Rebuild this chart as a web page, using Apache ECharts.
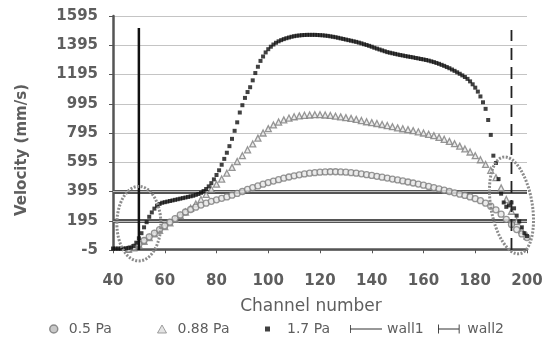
<!DOCTYPE html>
<html><head><meta charset="utf-8">
<script src="https://cdn.jsdelivr.net/npm/echarts@6/dist/echarts.min.js"></script>
<style>html,body{margin:0;padding:0;background:#fff}#c{width:547px;height:347px}</style>
</head><body><div id="c"></div>
<script>
// ---- data ----
const xTickLabels = [40, 60, 80, 100, 120, 140, 160, 180, 200];
const yTickLabels = [-5, 195, 395, 595, 795, 995, 1195, 1395, 1595];
const seriesNames = ['0.5 Pa', '0.88 Pa', '1.7 Pa', 'wall1', 'wall2'];

// 1.7 Pa: one value per channel, channels 40..200
const pa17Start = 40;
const pa17Values = [
  5,5,5,5,5,6,8,12,22,45,
  75,110,150,185,222,252,278,298,310,318,
  322,326,330,334,338,342,346,350,354,358,
  362,366,372,378,386,398,412,430,452,478,
  508,540,578,618,660,705,755,810,868,935,
  985,1035,1075,1108,1155,1205,1248,1288,1318,1346,
  1368,1385,1400,1412,1422,1430,1437,1443,1448,1453,
  1457,1460,1462,1464,1465,1466,1466,1466,1466,1465,
  1464,1463,1461,1459,1456,1453,1450,1446,1442,1438,
  1434,1430,1426,1422,1418,1413,1408,1402,1397,1391,
  1385,1378,1372,1366,1360,1354,1348,1344,1340,1336,
  1332,1328,1325,1321,1318,1315,1312,1308,1305,1301,
  1298,1294,1290,1285,1280,1274,1268,1261,1254,1246,
  1238,1229,1220,1210,1200,1189,1178,1165,1148,1128,
  1105,1078,1045,1005,960,884,782,640,590,480,
  380,320,290,300,320,280,230,190,150,110,
  90
];

// 0.88 Pa and 0.5 Pa: every second channel, channels 46..200
const grayStart = 46;
const grayStep = 2;
const pa088Values = [
  0,10,30,55,80,105,130,155,180,205,
  230,255,280,310,340,375,410,445,480,520,
  560,600,640,680,720,760,795,825,850,870,
  885,897,906,912,916,918,920,920,918,915,
  910,905,900,895,888,880,872,866,860,853,
  846,838,830,824,818,811,803,795,786,777,
  765,752,738,722,705,686,665,640,612,580,
  540,490,420,340,260,190,130,90
];
const pa05Values = [
  0,15,35,60,85,110,135,160,185,210,
  235,255,272,288,302,315,328,338,348,358,
  370,382,395,410,422,433,445,456,466,476,
  486,494,502,509,515,520,524,527,529,530,
  530,529,527,524,520,516,510,505,499,493,
  487,480,474,467,460,453,446,438,430,422,
  413,404,395,386,377,368,358,346,332,315,
  295,270,240,205,170,135,105,80
];

// wall positions (channel) and their vertical extent (velocity)
const wall1 = [[50, -5], [50, 1513]];
const wall2 = [[194, -5], [194, 1500]];
// horizontal reference levels
const refLevels = [395, 195];

// annotation ellipses, in data units: centre channel/velocity, half-width (channels), half-height (velocity), tilt
const annotations = [
  { ch: 50.0, v: 175, dch: 8.5, dv: 255, tilt: 0 },
  { ch: 194.0, v: 300, dch: 8.0, dv: 335, tilt: 0.17 }
];

// ---- build ----
function seq(start, step, values) {
  return values.map((v, i) => [start + i * step, v]);
}

const chart = echarts.init(document.getElementById('c'), null, { renderer: 'canvas' });
const txt = '#5e5e5e';
const font = 'DejaVu Sans, Verdana, sans-serif';

const legendStyle = { fontSize: 14, color: txt, fontFamily: font };
function oneLegend(name, left, icon, w, h, itemStyle, padLeft) {
  return {
    left: left, top: 317, itemWidth: w, itemHeight: h, selectedMode: false,
    textStyle: Object.assign({ padding: [0, 0, 0, padLeft] }, legendStyle),
    data: [{ name: name, icon: icon, itemStyle: itemStyle }]
  };
}

const option = {
  animation: false,
  backgroundColor: '#fff',
  grid: { left: 113, right: 20, top: 16, bottom: 97 },
  xAxis: {
    type: 'value', min: 40, max: 200, interval: 20,
    name: 'Channel number', nameLocation: 'middle', nameGap: 48,
    nameTextStyle: { fontSize: 17, color: txt, fontFamily: font, padding: [0, 18, 0, 0] },
    axisLine: { lineStyle: { color: '#555', width: 2.5 } },
    axisTick: { show: true, length: 4, lineStyle: { color: '#555' } },
    axisLabel: { margin: 24, fontSize: 15, color: txt, fontFamily: font, fontWeight: 'bold',
      formatter: v => xTickLabels.includes(v) ? String(v) : '' },
    splitLine: { show: false }
  },
  yAxis: {
    type: 'value', min: -5, max: 1595, interval: 200,
    name: 'Velocity (mm/s)', nameLocation: 'middle', nameGap: 83, nameRotate: 90,
    nameTextStyle: { fontSize: 15, color: txt, fontFamily: font, fontWeight: 'bold', padding: [0, 34, 0, 0] },
    axisLine: { show: true, lineStyle: { color: '#555', width: 2.5 } },
    axisTick: { show: true, length: 4, lineStyle: { color: '#555' } },
    axisLabel: { margin: 15, fontSize: 15, color: txt, fontFamily: font, fontWeight: 'bold',
      formatter: v => yTickLabels.includes(v) ? String(v) : '' },
    splitLine: { show: true, lineStyle: { color: '#c4c4c4', width: 1 } }
  },
  legend: [
    oneLegend(seriesNames[0], 44, 'circle', 8, 8, { color: '#bbb', borderColor: '#777', borderWidth: 1.5 }, 6),
    oneLegend(seriesNames[1], 152, 'triangle', 9, 8, { color: '#ddd', borderColor: '#888', borderWidth: 1 }, 6),
    oneLegend(seriesNames[2], 260, 'rect', 5, 5, { color: '#111' }, 12),
    oneLegend(seriesNames[3], 345, 'path://M0,0h1v10h-1Z M0,4.5h40v1h-40Z', 32, 9, { color: '#333' }, 0),
    oneLegend(seriesNames[4], 433, 'path://M0,0h1v10h-1Z M0,4.5h24v1h-24Z M23,0h1v10h-1Z', 27, 9, { color: '#333' }, 0)
  ],
  series: [
    {
      name: seriesNames[1], type: 'scatter', data: seq(grayStart, grayStep, pa088Values),
      symbol: 'triangle', symbolSize: 6,
      itemStyle: { color: '#e6e6e6', borderColor: '#7d7d7d', borderWidth: 1.3 }, z: 3
    },
    {
      name: seriesNames[0], type: 'scatter', data: seq(grayStart, grayStep, pa05Values),
      symbol: 'circle', symbolSize: 6,
      itemStyle: { color: '#e6e6e6', borderColor: '#7d7d7d', borderWidth: 1.3 }, z: 3
    },
    {
      name: seriesNames[2], type: 'scatter', data: seq(pa17Start, 1, pa17Values),
      symbol: 'rect', symbolSize: 4, itemStyle: { color: '#111' }, z: 4
    },
    {
      name: seriesNames[3], type: 'line', data: wall1, symbol: 'none',
      lineStyle: { color: '#111', width: 2.5 }, z: 5,
      markLine: {
        silent: true, symbol: 'none', label: { show: false }, z: 2,
        data: refLevels.map(v => ({ yAxis: v, lineStyle: { color: '#555', width: 4, type: 'solid' } }))
          .concat(refLevels.map(v => ({ yAxis: v, lineStyle: { color: '#bdbdbd', width: 1, type: 'solid' } })))
      }
    },
    {
      name: seriesNames[4], type: 'line', data: wall2, symbol: 'none',
      lineStyle: { color: '#222', width: 1.8, type: [12, 7] }, z: 5
    }
  ]
};
chart.setOption(option);

const graphics = annotations.map(a => {
  const c = chart.convertToPixel({ gridIndex: 0 }, [a.ch, a.v]);
  const e = chart.convertToPixel({ gridIndex: 0 }, [a.ch + a.dch, a.v + a.dv]);
  return {
    type: 'ellipse', x: c[0], y: c[1], rotation: a.tilt, z: 10,
    shape: { cx: 0, cy: 0, rx: Math.abs(e[0] - c[0]), ry: Math.abs(c[1] - e[1]) },
    style: { fill: 'none', stroke: '#8c8c8c', lineWidth: 3, lineDash: [2, 1.5] }
  };
});
chart.setOption({ graphic: graphics });
</script>
</body></html>
